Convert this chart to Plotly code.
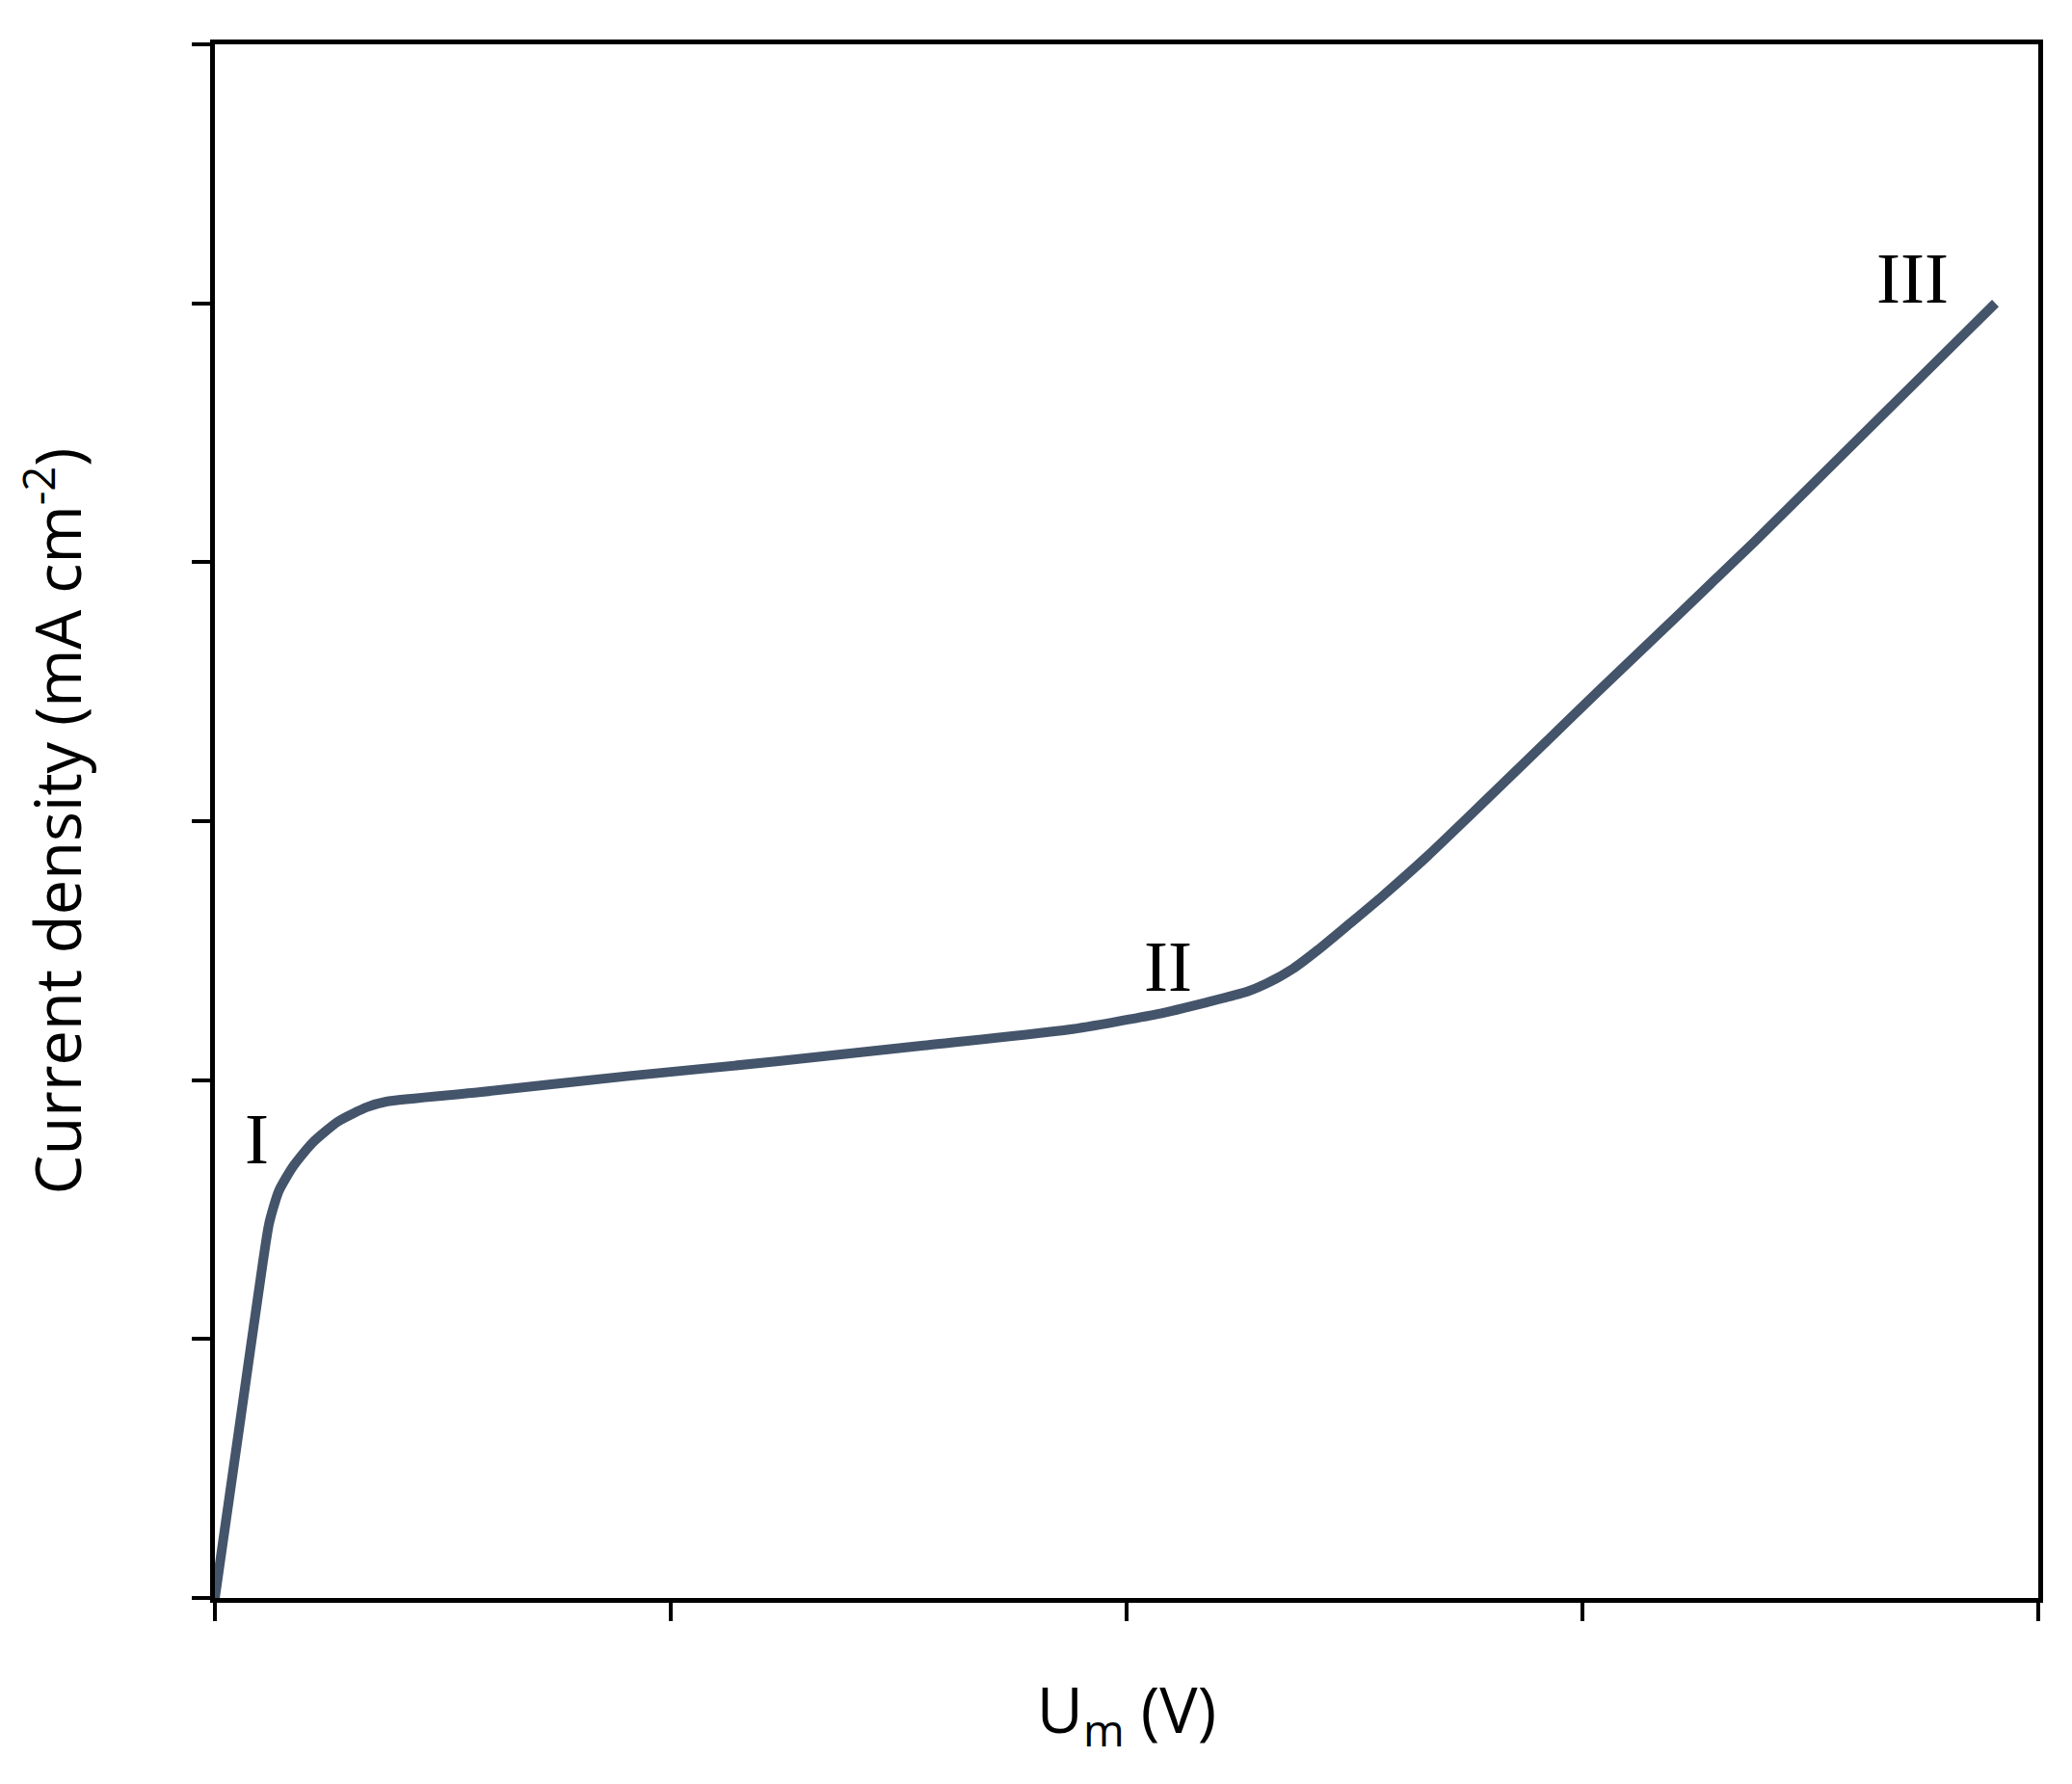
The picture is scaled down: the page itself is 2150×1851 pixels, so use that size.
import plotly.graph_objects as go

# membrane voltage vs current density (arbitrary units, no tick labels)
u_m = [0.0, 0.052, 0.105, 0.119, 0.140, 0.172, 0.214, 0.271, 0.334, 0.376, 0.579,
       0.903, 1.226, 1.55, 1.873, 2.068, 2.173, 2.265, 2.314, 2.364, 2.42, 2.49,
       2.561, 2.66, 3.04, 3.378, 3.906]
current = [0.0, 0.64, 1.294, 1.447, 1.571, 1.668, 1.758, 1.841, 1.896, 1.917, 1.953,
           2.015, 2.071, 2.133, 2.195, 2.255, 2.299, 2.342, 2.379, 2.429, 2.503, 2.605,
           2.71, 2.865, 3.51, 4.08, 5.0]

region_labels = ["I", "II", "III"]
label_x = [0.093, 2.09, 3.725]
label_y = [1.775, 2.441, 5.096]

fig = go.Figure()

fig.add_trace(go.Scatter(
    x=u_m, y=current,
    mode="lines",
    line=dict(color="#44546A", width=10, shape="spline", smoothing=0.6),
    showlegend=False,
))

for txt, lx, ly in zip(region_labels, label_x, label_y):
    fig.add_annotation(
        x=lx, y=ly, text=txt, showarrow=False,
        font=dict(family="Liberation Serif", size=75, color="black"),
    )

axis_style = dict(
    showline=True, linecolor="black", linewidth=5, mirror=True,
    ticks="outside", ticklen=19, tickwidth=4, tickcolor="black",
    showticklabels=False, showgrid=False, zeroline=False,
)

fig.update_xaxes(range=[0, 4], dtick=1, **axis_style,
                 title=dict(text="U<sub>m</sub> (V)", standoff=72,
                            font=dict(family="Open Sans", size=66, color="black")))
fig.update_yaxes(range=[0, 6], dtick=1, **axis_style,
                 title=dict(text="Current density (mA cm<sup>-2</sup>)", standoff=100,
                            font=dict(family="Open Sans", size=65, color="black")))

fig.update_layout(
    width=2150, height=1851,
    margin=dict(l=215, r=43, t=38, b=201),
    plot_bgcolor="white", paper_bgcolor="white",
)

fig.write_html("out.html")
